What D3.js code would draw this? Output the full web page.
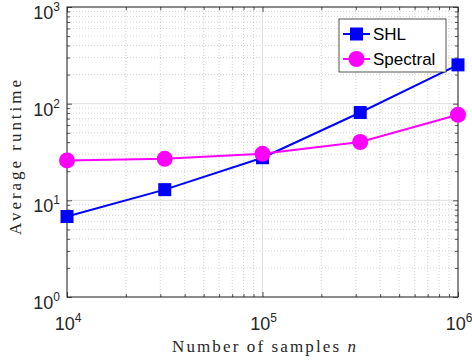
<!DOCTYPE html>
<html>
<head>
<meta charset="utf-8">
<script src="https://cdn.jsdelivr.net/npm/d3@7"></script>
<style>
  html, body { margin: 0; padding: 0; background: #ffffff; }
  svg { display: block; }
</style>
</head>
<body>
<div id="chart"></div>
<script>
// Data
const sampleSizes = [1e4, 31623, 1e5, 316228, 1e6];
const shlRuntime = [6.8, 12.9, 27.6, 81, 252];
const spectralRuntime = [25.9, 26.9, 30.3, 40.1, 76.8];
const xTickExps = [4, 5, 6];
const yTickExps = [0, 1, 2, 3];
const seriesNames = ['SHL', 'Spectral'];

const W = 472, H = 362;
const plot = { left: 67, top: 7, right: 458, bottom: 297 };
const axisColor = '#262626';
const sansFont = '"Liberation Sans", Arial, sans-serif';
const serifFont = '"Liberation Serif", "DejaVu Serif", serif';

const svg = d3.select('#chart')
  .append('svg')
  .attr('width', W)
  .attr('height', H)
  .style('background', '#ffffff');

const x = d3.scaleLog().domain([1e4, 1e6]).range([plot.left, plot.right]);
const y = d3.scaleLog().domain([1, 1e3]).range([plot.bottom, plot.top]);

// minor values (2..9 x each decade)
function minorValues(lo, hi) {
  const out = [];
  for (let e = lo; e < hi; e++) {
    for (let k = 2; k <= 9; k++) out.push(k * Math.pow(10, e));
  }
  return out;
}
const xMinor = minorValues(4, 6);
const yMinor = minorValues(0, 3);
const xMajor = xTickExps.map(e => Math.pow(10, e));
const yMajor = yTickExps.map(e => Math.pow(10, e));

// Grid
const grid = svg.append('g');
grid.selectAll('line.xminor').data(xMinor).enter().append('line')
  .attr('x1', d => x(d)).attr('x2', d => x(d))
  .attr('y1', plot.top).attr('y2', plot.bottom)
  .attr('stroke', '#c8c8c8').attr('stroke-width', 0.8)
  .attr('stroke-dasharray', '1,2');
grid.selectAll('line.yminor').data(yMinor).enter().append('line')
  .attr('y1', d => y(d)).attr('y2', d => y(d))
  .attr('x1', plot.left).attr('x2', plot.right)
  .attr('stroke', '#c8c8c8').attr('stroke-width', 0.8)
  .attr('stroke-dasharray', '1,2');
grid.selectAll('line.xmajor').data(xMajor).enter().append('line')
  .attr('x1', d => x(d)).attr('x2', d => x(d))
  .attr('y1', plot.top).attr('y2', plot.bottom)
  .attr('stroke', '#dedede').attr('stroke-width', 1);
grid.selectAll('line.ymajor').data(yMajor).enter().append('line')
  .attr('y1', d => y(d)).attr('y2', d => y(d))
  .attr('x1', plot.left).attr('x2', plot.right)
  .attr('stroke', '#dedede').attr('stroke-width', 1);

// Axes with inward ticks on all four sides
function styleAxis(g) {
  g.select('.domain').remove();
  g.selectAll('.tick line').attr('stroke', axisColor).attr('stroke-width', 0.8);
  g.selectAll('.tick text').remove();
}
const xb = d3.axisBottom(x).tickValues(xMajor).tickSize(-5);
const xbm = d3.axisBottom(x).tickValues(xMinor).tickSize(-3);
const xt = d3.axisTop(x).tickValues(xMajor).tickSize(-5);
const xtm = d3.axisTop(x).tickValues(xMinor).tickSize(-3);
const yl = d3.axisLeft(y).tickValues(yMajor).tickSize(-5);
const ylm = d3.axisLeft(y).tickValues(yMinor).tickSize(-3);
const yr = d3.axisRight(y).tickValues(yMajor).tickSize(-5);
const yrm = d3.axisRight(y).tickValues(yMinor).tickSize(-3);

svg.append('g').attr('transform', `translate(0,${plot.bottom})`).call(xb).call(styleAxis);
svg.append('g').attr('transform', `translate(0,${plot.bottom})`).call(xbm).call(styleAxis);
svg.append('g').attr('transform', `translate(0,${plot.top})`).call(xt).call(styleAxis);
svg.append('g').attr('transform', `translate(0,${plot.top})`).call(xtm).call(styleAxis);
svg.append('g').attr('transform', `translate(${plot.left},0)`).call(yl).call(styleAxis);
svg.append('g').attr('transform', `translate(${plot.left},0)`).call(ylm).call(styleAxis);
svg.append('g').attr('transform', `translate(${plot.right},0)`).call(yr).call(styleAxis);
svg.append('g').attr('transform', `translate(${plot.right},0)`).call(yrm).call(styleAxis);

// Box
svg.append('rect')
  .attr('x', plot.left).attr('y', plot.top)
  .attr('width', plot.right - plot.left).attr('height', plot.bottom - plot.top)
  .attr('fill', 'none').attr('stroke', axisColor).attr('stroke-width', 1);

// Tick labels: 10^e
function powerLabel(sel, e) {
  sel.append('tspan').text('10');
  sel.append('tspan').attr('dy', -8).attr('font-size', 12).text(e);
}
xTickExps.forEach(e => {
  const t = svg.append('text')
    .attr('x', x(Math.pow(10, e)) + 1)
    .attr('y', 330)
    .attr('text-anchor', 'middle')
    .attr('font-family', sansFont)
    .attr('font-size', 18)
    .attr('fill', axisColor);
  powerLabel(t, e);
});
yTickExps.forEach(e => {
  const t = svg.append('text')
    .attr('x', 60)
    .attr('y', y(Math.pow(10, e)) + 12)
    .attr('text-anchor', 'end')
    .attr('font-family', sansFont)
    .attr('font-size', 18)
    .attr('fill', axisColor);
  powerLabel(t, e);
});

// Axis titles (LaTeX-like serif, stretched to the reference width)
const xTitle = svg.append('text')
  .attr('x', 172).attr('y', 352)
  .attr('font-family', serifFont)
  .attr('font-size', 17)
  .attr('fill', axisColor)
  .attr('textLength', 184)
  .attr('lengthAdjust', 'spacing');
xTitle.append('tspan').text('Number of samples ');
xTitle.append('tspan').attr('font-style', 'italic').text('n');

svg.append('text')
  .attr('transform', 'translate(21,235) rotate(-90)')
  .attr('font-family', serifFont)
  .attr('font-size', 17)
  .attr('fill', axisColor)
  .attr('textLength', 155)
  .attr('lengthAdjust', 'spacing')
  .text('Average runtime');

// Series
const line = d3.line().x(d => x(d[0])).y(d => y(d[1]));
const shlPts = sampleSizes.map((n, i) => [n, shlRuntime[i]]);
const specPts = sampleSizes.map((n, i) => [n, spectralRuntime[i]]);

svg.append('path').datum(shlPts)
  .attr('d', line).attr('fill', 'none')
  .attr('stroke', '#0000ff').attr('stroke-width', 2);
svg.selectAll('rect.shl').data(shlPts).enter().append('rect')
  .attr('class', 'shl')
  .attr('x', d => x(d[0]) - 6.5).attr('y', d => y(d[1]) - 6.5)
  .attr('width', 13).attr('height', 13)
  .attr('fill', '#0000ff');

svg.append('path').datum(specPts)
  .attr('d', line).attr('fill', 'none')
  .attr('stroke', '#ff00ff').attr('stroke-width', 2);
svg.selectAll('circle.spec').data(specPts).enter().append('circle')
  .attr('class', 'spec')
  .attr('cx', d => x(d[0])).attr('cy', d => y(d[1]))
  .attr('r', 8)
  .attr('fill', '#ff00ff');

// Legend
const legend = svg.append('g').attr('transform', 'translate(339,19)');
legend.append('rect')
  .attr('width', 107).attr('height', 53)
  .attr('fill', '#ffffff').attr('stroke', axisColor).attr('stroke-width', 0.8);
const legendColors = ['#0000ff', '#ff00ff'];
seriesNames.forEach((name, i) => {
  const ly = 15 + i * 25;
  legend.append('line')
    .attr('x1', 4).attr('x2', 31).attr('y1', ly).attr('y2', ly)
    .attr('stroke', legendColors[i]).attr('stroke-width', 2);
  if (i === 0) {
    legend.append('rect')
      .attr('x', 17.5 - 6.5).attr('y', ly - 6.5)
      .attr('width', 13).attr('height', 13).attr('fill', legendColors[i]);
  } else {
    legend.append('circle')
      .attr('cx', 17.5).attr('cy', ly).attr('r', 8).attr('fill', legendColors[i]);
  }
  legend.append('text')
    .attr('x', 34).attr('y', ly + 6)
    .attr('font-family', sansFont)
    .attr('font-size', 17)
    .attr('fill', '#000000')
    .text(name);
});
</script>
</body>
</html>
